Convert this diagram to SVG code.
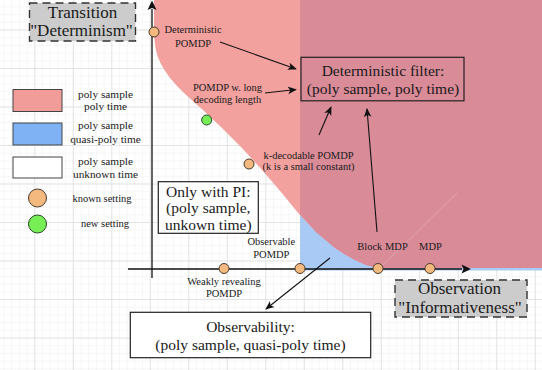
<svg xmlns="http://www.w3.org/2000/svg" width="542" height="370" viewBox="0 0 542 370">
<style>
text{fill:#1a1a1a;text-anchor:middle}
.lbl{font-size:10.5px}
.leg{font-size:11.3px}
.big{font-size:15.5px}
.ttl{font-size:17px}
.ax{stroke:#111;stroke-width:1.3;fill:none}
.conn{stroke:#111;stroke-width:1.1;fill:none;marker-end:url(#arr)}
.box{stroke:#222;stroke-width:1.2}
.dash{fill:#cccccc;stroke:#333;stroke-width:1.4;stroke-dasharray:8 5}
.dot{fill:#F4B97F;stroke:#4a3a2a;stroke-width:1}
.gdot{fill:#77EE55;stroke:#2a4a2a;stroke-width:1}
</style>
<defs>
<pattern id="minor" width="7.7" height="7.7" patternUnits="userSpaceOnUse" x="34.3" y="29.5">
<path d="M0 0.25H7.7M0.25 0V7.7" fill="none" stroke="#f2f2f2" stroke-width="0.8"/>
</pattern>
<pattern id="major" width="38.5" height="38.5" patternUnits="userSpaceOnUse" x="34.3" y="29.5">
<path d="M0 0.4H38.5M0.4 0V38.5" fill="none" stroke="#e3e3e3" stroke-width="1"/>
</pattern>
<marker id="arr" viewBox="0 0 10 10" refX="9" refY="5" markerWidth="9" markerHeight="9" markerUnits="userSpaceOnUse" orient="auto">
<path d="M0,0.8 L10,5 L0,9.2 L2.6,5 Z" fill="#111"/>
</marker>
</defs>
<rect width="542" height="370" fill="#ffffff"/>
<rect width="542" height="370" fill="url(#minor)"/>
<rect width="542" height="370" fill="url(#major)"/>

<g id="regions">
<rect x="300" y="200" width="242" height="70.5" fill="#A9CAF5"/>
<path d="M154,0 L154,30 L154.5,40 L155.5,48 L157.5,56 L160.5,63 L164.5,70 L170,78 L177,86 L185,94 L203,110 L222,128 L242,148 L262,170 L281,192 L299,214 L316,232 L335,248 L345,254.5 L355,260 L366,265 L378,268 L542,268 L542,0 Z" fill="#F3A19E"/>
<path d="M300,0 L300,214 L316,232 L335,248 L345,254.5 L355,260 L366,265 L378,268 L542,268 L542,0 Z" fill="#D98B98"/>
<line x1="383" y1="265" x2="457" y2="193" stroke="#e4a9b8" stroke-width="0.8"/>
</g>

<g id="axes">
<line class="ax" x1="152" y1="278" x2="152" y2="9" />
<path d="M152,0.5 L156.5,10 L152,8 L147.5,10 Z" fill="#111"/>
<line class="ax" x1="128" y1="269" x2="462" y2="269"/>
<path d="M471,269 L461.5,264.5 L463.5,269 L461.5,273.5 Z" fill="#111"/>
</g>

<g id="connectors">
<line class="conn" x1="220" y1="42" x2="296" y2="69"/>
<line class="conn" x1="265" y1="93" x2="296" y2="89.5"/>
<line class="conn" x1="319" y1="135" x2="331" y2="107"/>
<line class="conn" x1="377" y1="232" x2="367" y2="109"/>
<line class="conn" x1="330" y1="258" x2="266" y2="309"/>
</g>

<g font-family="'Liberation Serif', 'DejaVu Serif', serif">
<g id="title-transition">
<rect class="dash" x="29.5" y="3" width="106" height="38"/>
<text class="ttl" x="82.5" y="17.5">Transition</text>
<text class="ttl" x="81.5" y="36">"Determinism"</text>
</g>

<g id="title-observation">
<rect class="dash" x="395" y="280" width="132" height="37"/>
<text class="ttl" x="459.5" y="294">Observation</text>
<text class="ttl" x="460" y="313">"Informativeness"</text>
</g>

<g id="legend">
<rect x="13" y="89.5" width="49" height="22" fill="#F19C99" stroke="#444" stroke-width="1"/>
<text class="leg" x="105.5" y="98.3">poly sample</text>
<text class="leg" x="105.5" y="110">poly time</text>
<rect x="13" y="123" width="49" height="22" fill="#7EB2F5" stroke="#444" stroke-width="1"/>
<text class="leg" x="105.5" y="129">poly sample</text>
<text class="leg" x="105.5" y="142.7">quasi-poly time</text>
<rect x="13" y="157" width="49" height="21" fill="#ffffff" stroke="#444" stroke-width="1"/>
<text class="leg" x="105.5" y="165">poly sample</text>
<text class="leg" x="105.5" y="178.3">unknown time</text>
<circle class="dot" cx="37.5" cy="198" r="9"/>
<text class="leg" x="102" y="201.7" style="font-size:10.5px">known setting</text>
<circle class="gdot" cx="37.5" cy="224" r="9"/>
<text class="leg" x="105" y="226.7" style="font-size:10.5px">new setting</text>
</g>

<g id="node-det-filter">
<rect class="box" x="301" y="57.3" width="163" height="43.5" fill="none"/>
<text class="big" x="383" y="76">Deterministic filter:</text>
<text class="big" x="383" y="94.3">(poly sample, poly time)</text>
</g>

<g id="node-only-pi">
<rect class="box" x="158.3" y="181.7" width="100" height="51.6" fill="#ffffff"/>
<text class="big" x="208.3" y="196.7">Only with PI:</text>
<text class="big" x="208.3" y="213.3">(poly sample,</text>
<text class="big" x="208.3" y="230">unkown time)</text>
</g>

<g id="node-observability">
<rect class="box" x="130.3" y="312.3" width="240.4" height="45.4" fill="#ffffff"/>
<text class="big" x="250.5" y="331.7">Observability:</text>
<text class="big" x="250.5" y="350">(poly sample, quasi-poly time)</text>
</g>

<g id="node-det-pomdp">
<circle class="dot" cx="154" cy="32" r="5"/>
<text class="lbl" x="193" y="33.3">Deterministic</text>
<text class="lbl" x="193" y="46.5">POMDP</text>
</g>

<g id="node-long-decoding">
<circle class="gdot" cx="206.7" cy="120" r="5"/>
<text class="lbl" x="227.5" y="91">POMDP w. long</text>
<text class="lbl" x="227.5" y="102.5">decoding length</text>
</g>

<g id="node-k-decodable">
<circle class="dot" cx="249" cy="164" r="5"/>
<text class="lbl" x="308.5" y="158.7">k-decodable POMDP</text>
<text class="lbl" x="308.5" y="170">(k is a small constant)</text>
</g>

<g id="node-weakly-revealing">
<circle class="dot" cx="224" cy="268.5" r="5"/>
<text class="lbl" x="224" y="285">Weakly revealing</text>
<text class="lbl" x="224" y="296.7">POMDP</text>
</g>

<g id="node-observable">
<circle class="dot" cx="300" cy="268.5" r="5"/>
<text class="lbl" x="271.3" y="245">Observable</text>
<text class="lbl" x="271.3" y="257.7">POMDP</text>
</g>

<g id="node-block-mdp">
<circle class="dot" cx="378" cy="268.5" r="5"/>
<text class="lbl" x="382.5" y="250">Block MDP</text>
</g>

<g id="node-mdp">
<circle class="dot" cx="430" cy="268.5" r="5"/>
<text class="lbl" x="430.5" y="250">MDP</text>
</g>
</g>
</svg>
